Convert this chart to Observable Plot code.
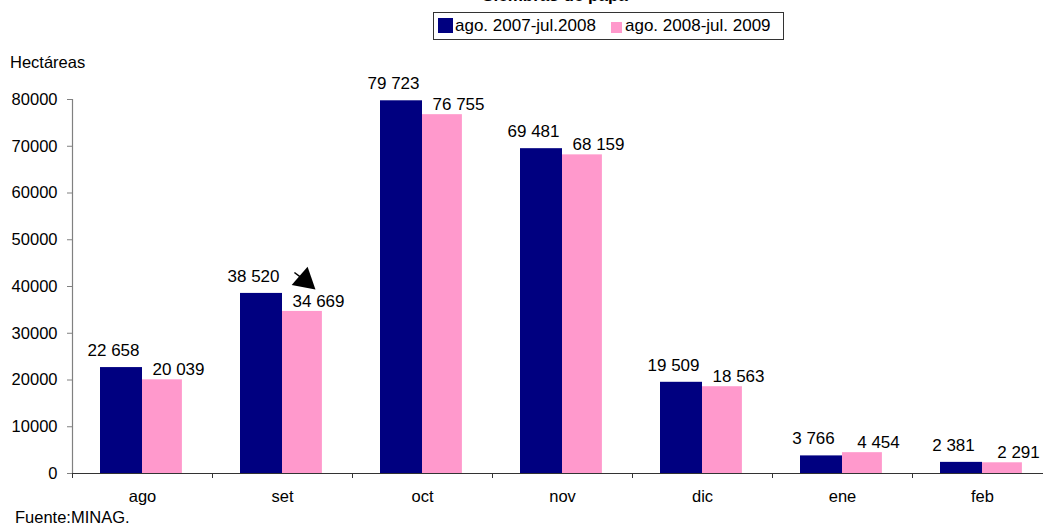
<!DOCTYPE html>
<html>
<head>
<meta charset="utf-8">
<script src="https://cdn.jsdelivr.net/npm/d3@7"></script>
<script src="https://cdn.jsdelivr.net/npm/@observablehq/plot@0.6"></script>
<style>
  html, body { margin: 0; padding: 0; background: #fff; overflow: hidden; }
  body { width: 1043px; height: 527px; position: relative; font-family: "Liberation Sans", Arial, sans-serif; color: #000; }
  #title { position: absolute; top: -14px; left: 0; width: 1110px; text-align: center; font-weight: bold; font-size: 17px; }
  #legend { position: absolute; left: 433px; top: 12px; width: 349px; height: 26px; border: 1px solid #333; font-size: 17px; }
  #legend .sw { position: absolute; }
  #legend .lb { position: absolute; top: 3px; white-space: nowrap; }
  #ylab { position: absolute; left: 10px; top: 53px; font-size: 16.5px; }
  #src { position: absolute; left: 15px; top: 508px; font-size: 16.5px; }
  #chart { position: absolute; left: 0; top: 0; }
</style>
</head>
<body>
<div id="chart"></div>
<div id="title"></div>
<div id="legend"></div>
<div id="ylab"></div>
<div id="src"></div>
<script>
const title = "Siembras de papa";
const yLabel = "Hectáreas";
const source = "Fuente:MINAG.";
const months = ["ago", "set", "oct", "nov", "dic", "ene", "feb"];
const seriesNames = ["ago. 2007-jul.2008", "ago. 2008-jul. 2009"];
const series1 = [22658, 38520, 79723, 69481, 19509, 3766, 2381];
const series2 = [20039, 34669, 76755, 68159, 18563, 4454, 2291];
const colors = ["#000080", "#FF99CC"];
const yTicks = [0, 10000, 20000, 30000, 40000, 50000, 60000, 70000, 80000];
// annotation arrow (data units: month index, hectáreas)
const arrowNote = [{x1: 1.585, y1: 43000, x2: 1.66, y2: 41300}];

document.getElementById("title").textContent = title;
document.getElementById("ylab").textContent = yLabel;
document.getElementById("src").textContent = source;

const leg = document.getElementById("legend");
leg.innerHTML =
  `<div class="sw" style="left:4px;top:5px;width:15px;height:15px;background:${colors[0]}"></div>` +
  `<div class="lb" style="left:21px">${seriesNames[0]}</div>` +
  `<div class="sw" style="left:177px;top:9px;width:11px;height:11px;background:${colors[1]}"></div>` +
  `<div class="lb" style="left:191px">${seriesNames[1]}</div>`;

const barW = 0.3;
const d1 = months.map((m, i) => ({i, m, v: series1[i]}));
const d2 = months.map((m, i) => ({i, m, v: series2[i]}));
const fmt = v => d3.format(",")(v).replace(/,/g, " ");

const W = 1043, H = 510;
const chart = Plot.plot({
  width: W,
  height: H,
  marginTop: 99,
  marginBottom: H - 473,
  marginLeft: 72,
  marginRight: 0,
  style: {fontFamily: "Liberation Sans, Arial, sans-serif", fontSize: "16.5px", color: "#000", background: "#fff", overflow: "visible"},
  x: {type: "linear", domain: [0, months.length], range: [72, 72 + 140 * months.length]},
  y: {domain: [0, 80000]},
  marks: [
    Plot.rectY(d1, {x1: d => d.i + 0.5 - barW, x2: d => d.i + 0.5, y1: 0, y2: "v", fill: colors[0]}),
    Plot.rectY(d2, {x1: d => d.i + 0.5, x2: d => d.i + 0.5 + barW * 0.95, y1: 0, y2: "v", fill: colors[1]}),
    Plot.ruleX([0], {stroke: "#808080", strokeWidth: 1.2}),
    Plot.ruleY([0], {stroke: "#333", strokeWidth: 1.2}),
    Plot.axisY({ticks: yTicks, tickFormat: d => String(d), tickSize: 5, tickPadding: 10, stroke: "#808080", fontSize: 16.5}),
    Plot.axisX({ticks: d3.range(months.length + 1), tickFormat: () => "", tickSize: 5, stroke: "#333"}),
    Plot.axisX({ticks: months.map((m, i) => i + 0.5), tickFormat: t => months[Math.floor(t)], tickSize: 0, tickPadding: 17, fontSize: 16.5}),
    Plot.text(d1, {x: d => d.i + 0.5 - barW / 2, y: "v", text: d => fmt(d.v), dy: -17, dx: -8, fontSize: 17, fill: "#000"}),
    Plot.text(d2, {x: d => d.i + 0.5 + barW / 2, y: "v", text: d => fmt(d.v), dy: -10, dx: 15, fontSize: 17, fill: "#000"}),
    Plot.link(arrowNote, {x1: "x1", y1: "y1", x2: "x2", y2: "y2", stroke: "#000", strokeWidth: 1.5}),
    Plot.dot(arrowNote, {x: "x2", y: "y2", symbol: "triangle", r: 9, fill: "#000", stroke: null, rotate: 131})
  ]
});
document.getElementById("chart").appendChild(chart);
</script>
</body>
</html>
